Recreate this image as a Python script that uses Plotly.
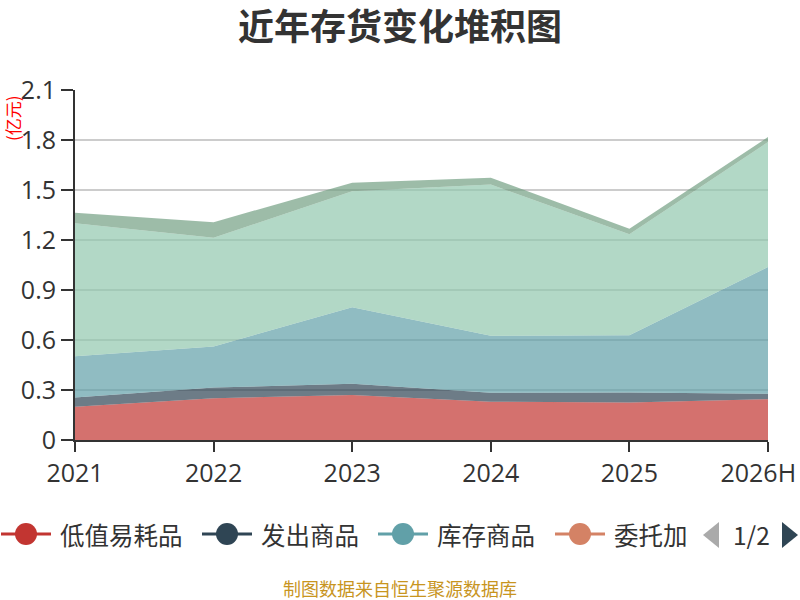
import plotly.graph_objects as go

# categories
years = ["2021", "2022", "2023", "2024", "2025", "2026H"]

# stacked inventory components (亿元)
low_value = [0.20, 0.25, 0.27, 0.23, 0.225, 0.245]      # 低值易耗品
shipped = [0.055, 0.065, 0.067, 0.054, 0.06, 0.032]     # 发出商品
stock = [0.247, 0.246, 0.459, 0.341, 0.343, 0.761]      # 库存商品
consigned = [0, 0, 0, 0, 0, 0]                          # 委托加工物资
raw = [0.798, 0.652, 0.697, 0.908, 0.606, 0.75]         # 原材料
wip = [0.064, 0.094, 0.051, 0.041, 0.034, 0.03]         # 在产品

names = ["低值易耗品", "发出商品", "库存商品", "委托加工物资", "原材料", "在产品"]
series = [low_value, shipped, stock, consigned, raw, wip]
colors = ["#c23531", "#2f4554", "#61a0a8", "#d48265", "#91c7ae", "#749f83"]
y_ticks = [0, 0.3, 0.6, 0.9, 1.2, 1.5, 1.8, 2.1]
y_tick_text = ["0", "0.3", "0.6", "0.9", "1.2", "1.5", "1.8", "2.1"]


def rgba(hex_color, a):
    h = hex_color.lstrip("#")
    r, g, b = int(h[0:2], 16), int(h[2:4], 16), int(h[4:6], 16)
    return f"rgba({r},{g},{b},{a})"


fig = go.Figure()
for name, vals, col in zip(names, series, colors):
    fig.add_trace(go.Scatter(
        x=years, y=vals, name=name,
        mode="lines",
        stackgroup="one",
        line=dict(width=0, color=col),
        fillcolor=rgba(col, 0.7),
        showlegend=False,
    ))

# plot area in pixels: x 75..768, y 90..440
L, R, T, B = 75, 768, 90, 440
W, H = R - L, B - T


def px(x):
    return (x - L) / W


def py(y):
    return 1 - (y - T) / H


FONT = "Noto Sans CJK SC"
shapes = []
annotations = []

# legend, page 1 of 2 (the last label is cut off like in the original)
legend_labels = ["低值易耗品", "发出商品", "库存商品", "委托加"]
legend_x = [1, 202, 378, 555]
ly = 534
for lab, x0, col in zip(legend_labels, legend_x, colors):
    shapes.append(dict(type="line", xref="paper", yref="paper",
                       x0=px(x0), x1=px(x0 + 50), y0=py(ly), y1=py(ly),
                       line=dict(color=col, width=3)))
    shapes.append(dict(type="circle", xref="paper", yref="paper",
                       x0=px(x0 + 14), x1=px(x0 + 36), y0=py(ly + 11), y1=py(ly - 11),
                       fillcolor=col, line=dict(width=0)))
    annotations.append(dict(text=lab, xref="paper", yref="paper",
                            x=px(x0 + 57), y=py(ly), xanchor="left", yanchor="middle",
                            showarrow=False, font=dict(family=FONT, size=24.5, color="#333")))

# pager arrows and page counter
shapes.append(dict(type="path", xref="paper", yref="paper",
                   path=f"M{px(719)},{py(522)} L{px(703)},{py(535)} L{px(719)},{py(548)} Z",
                   fillcolor="#aaaaaa", line=dict(width=0)))
shapes.append(dict(type="path", xref="paper", yref="paper",
                   path=f"M{px(782)},{py(522)} L{px(798)},{py(535)} L{px(782)},{py(548)} Z",
                   fillcolor="#2f4554", line=dict(width=0)))
annotations.append(dict(text="1/2", xref="paper", yref="paper",
                        x=px(751), y=py(534), xanchor="center", yanchor="middle",
                        showarrow=False, font=dict(family=FONT, size=24.5, color="#333")))

# unit label
annotations.append(dict(text="(亿元)", xref="paper", yref="paper",
                        x=px(13), y=py(118), textangle=-90,
                        xanchor="center", yanchor="middle", showarrow=False,
                        font=dict(family=FONT, size=17, color="#ff0000")))

# source note
annotations.append(dict(text="制图数据来自恒生聚源数据库", xref="paper", yref="paper",
                        x=px(400), y=py(588), xanchor="center", yanchor="middle",
                        showarrow=False, font=dict(family=FONT, size=18, color="#c8951f")))

fig.update_layout(
    width=800, height=600, autosize=False,
    margin=dict(l=L, r=800 - R, t=T, b=600 - B),
    paper_bgcolor="white", plot_bgcolor="white",
    title=dict(text="<b>近年存货变化堆积图</b>", x=0.5, xanchor="center",
               y=1 - 27 / 600, yanchor="middle",
               font=dict(family=FONT, size=36, color="#333")),
    font=dict(family=FONT, color="#333"),
    shapes=shapes,
    annotations=annotations,
    hovermode="x",
)
# last label is pulled inwards a little so it stays inside the canvas
x_tick_text = years[:-1] + [years[-1] + "\u00a0\u00a0\u00a0"]
fig.update_xaxes(
    type="category", range=[0, len(years) - 1], automargin=False,
    tickvals=years, ticktext=x_tick_text,
    showgrid=False, showline=True, linecolor="#333", linewidth=2,
    ticks="outside", ticklen=10, tickwidth=2, tickcolor="#333",
    tickfont=dict(family="Open Sans", size=25, color="#333"),
)
fig.update_yaxes(
    range=[0, 2.1], tickvals=y_ticks, ticktext=y_tick_text, automargin=False,
    showgrid=True, gridcolor="#cccccc", gridwidth=1.5, zeroline=False,
    showline=True, linecolor="#333", linewidth=2,
    ticks="outside", ticklen=12, tickwidth=2, tickcolor="#333",
    tickfont=dict(family="Open Sans", size=25, color="#333"),
)

# drop the page's default body margin so the 800x600 figure fills the window
fig.write_html("out.html", config={"displayModeBar": False},
               post_script="document.body.style.margin='0';document.body.style.overflow='hidden';")
